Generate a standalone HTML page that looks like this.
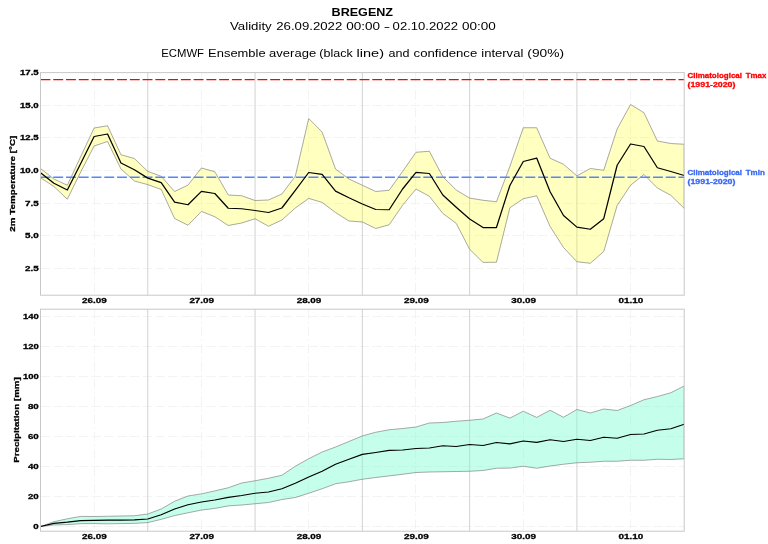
<!DOCTYPE html>
<html><head><meta charset="utf-8"><title>BREGENZ</title>
<style>
html,body{margin:0;padding:0;background:#fff;}
body{width:768px;height:544px;overflow:hidden;font-family:"Liberation Sans",sans-serif;}
svg{display:block;font-family:"Liberation Sans",sans-serif;will-change:transform;}
.b{font-weight:bold;}
</style></head><body>
<svg width="768" height="544" viewBox="0 0 768 544">
<rect width="768" height="544" fill="#fff"/>

<g>
<line x1="94.50" y1="72.60" x2="94.50" y2="295.20" stroke="#eeeeee" stroke-width="0.7" stroke-dasharray="9.5 3.26 1.5 3.26"/>
<line x1="201.50" y1="72.60" x2="201.50" y2="295.20" stroke="#eeeeee" stroke-width="0.7" stroke-dasharray="9.5 3.26 1.5 3.26"/>
<line x1="308.50" y1="72.60" x2="308.50" y2="295.20" stroke="#eeeeee" stroke-width="0.7" stroke-dasharray="9.5 3.26 1.5 3.26"/>
<line x1="415.50" y1="72.60" x2="415.50" y2="295.20" stroke="#eeeeee" stroke-width="0.7" stroke-dasharray="9.5 3.26 1.5 3.26"/>
<line x1="523.50" y1="72.60" x2="523.50" y2="295.20" stroke="#eeeeee" stroke-width="0.7" stroke-dasharray="9.5 3.26 1.5 3.26"/>
<line x1="630.50" y1="72.60" x2="630.50" y2="295.20" stroke="#eeeeee" stroke-width="0.7" stroke-dasharray="9.5 3.26 1.5 3.26"/>
<line x1="40.50" y1="268.50" x2="684.20" y2="268.50" stroke="#eeeeee" stroke-width="0.7" stroke-dasharray="9.5 3.26"/>
<line x1="40.50" y1="235.50" x2="684.20" y2="235.50" stroke="#eeeeee" stroke-width="0.7" stroke-dasharray="9.5 3.26"/>
<line x1="40.50" y1="203.50" x2="684.20" y2="203.50" stroke="#eeeeee" stroke-width="0.7" stroke-dasharray="9.5 3.26"/>
<line x1="40.50" y1="170.50" x2="684.20" y2="170.50" stroke="#eeeeee" stroke-width="0.7" stroke-dasharray="9.5 3.26"/>
<line x1="40.50" y1="137.50" x2="684.20" y2="137.50" stroke="#eeeeee" stroke-width="0.7" stroke-dasharray="9.5 3.26"/>
<line x1="40.50" y1="105.50" x2="684.20" y2="105.50" stroke="#eeeeee" stroke-width="0.7" stroke-dasharray="9.5 3.26"/>
<line x1="147.78" y1="72.60" x2="147.78" y2="295.20" stroke="#d2d2d2" stroke-width="1.0"/>
<line x1="255.07" y1="72.60" x2="255.07" y2="295.20" stroke="#d2d2d2" stroke-width="1.0"/>
<line x1="362.35" y1="72.60" x2="362.35" y2="295.20" stroke="#d2d2d2" stroke-width="1.0"/>
<line x1="469.63" y1="72.60" x2="469.63" y2="295.20" stroke="#d2d2d2" stroke-width="1.0"/>
<line x1="576.92" y1="72.60" x2="576.92" y2="295.20" stroke="#d2d2d2" stroke-width="1.0"/>
</g><g>
<line x1="94.50" y1="309.20" x2="94.50" y2="531.20" stroke="#eeeeee" stroke-width="0.7" stroke-dasharray="9.5 3.26 1.5 3.26"/>
<line x1="201.50" y1="309.20" x2="201.50" y2="531.20" stroke="#eeeeee" stroke-width="0.7" stroke-dasharray="9.5 3.26 1.5 3.26"/>
<line x1="308.50" y1="309.20" x2="308.50" y2="531.20" stroke="#eeeeee" stroke-width="0.7" stroke-dasharray="9.5 3.26 1.5 3.26"/>
<line x1="415.50" y1="309.20" x2="415.50" y2="531.20" stroke="#eeeeee" stroke-width="0.7" stroke-dasharray="9.5 3.26 1.5 3.26"/>
<line x1="523.50" y1="309.20" x2="523.50" y2="531.20" stroke="#eeeeee" stroke-width="0.7" stroke-dasharray="9.5 3.26 1.5 3.26"/>
<line x1="630.50" y1="309.20" x2="630.50" y2="531.20" stroke="#eeeeee" stroke-width="0.7" stroke-dasharray="9.5 3.26 1.5 3.26"/>
<line x1="40.50" y1="526.50" x2="684.20" y2="526.50" stroke="#eeeeee" stroke-width="0.7" stroke-dasharray="9.5 3.26"/>
<line x1="40.50" y1="496.50" x2="684.20" y2="496.50" stroke="#eeeeee" stroke-width="0.7" stroke-dasharray="9.5 3.26"/>
<line x1="40.50" y1="466.50" x2="684.20" y2="466.50" stroke="#eeeeee" stroke-width="0.7" stroke-dasharray="9.5 3.26"/>
<line x1="40.50" y1="436.50" x2="684.20" y2="436.50" stroke="#eeeeee" stroke-width="0.7" stroke-dasharray="9.5 3.26"/>
<line x1="40.50" y1="406.50" x2="684.20" y2="406.50" stroke="#eeeeee" stroke-width="0.7" stroke-dasharray="9.5 3.26"/>
<line x1="40.50" y1="376.50" x2="684.20" y2="376.50" stroke="#eeeeee" stroke-width="0.7" stroke-dasharray="9.5 3.26"/>
<line x1="40.50" y1="346.50" x2="684.20" y2="346.50" stroke="#eeeeee" stroke-width="0.7" stroke-dasharray="9.5 3.26"/>
<line x1="40.50" y1="316.50" x2="684.20" y2="316.50" stroke="#eeeeee" stroke-width="0.7" stroke-dasharray="9.5 3.26"/>
<line x1="147.78" y1="309.20" x2="147.78" y2="531.20" stroke="#d2d2d2" stroke-width="1.0"/>
<line x1="255.07" y1="309.20" x2="255.07" y2="531.20" stroke="#d2d2d2" stroke-width="1.0"/>
<line x1="362.35" y1="309.20" x2="362.35" y2="531.20" stroke="#d2d2d2" stroke-width="1.0"/>
<line x1="469.63" y1="309.20" x2="469.63" y2="531.20" stroke="#d2d2d2" stroke-width="1.0"/>
<line x1="576.92" y1="309.20" x2="576.92" y2="531.20" stroke="#d2d2d2" stroke-width="1.0"/>
</g>
<clipPath id="ct"><rect x="40.50" y="72.60" width="643.70" height="222.60"/></clipPath>
<clipPath id="cb"><rect x="40.50" y="309.20" width="643.70" height="222.00"/></clipPath>
<g clip-path="url(#ct)">
<polygon points="40.50,168.50 53.91,179.00 67.32,185.25 80.73,156.50 94.14,128.00 107.55,125.75 120.96,154.75 134.37,158.50 147.78,171.40 161.19,176.25 174.60,191.50 188.01,185.10 201.43,168.00 214.84,171.75 228.25,195.00 241.66,195.75 255.07,200.50 268.48,200.00 281.89,194.00 295.30,176.25 308.71,118.50 322.12,132.00 335.53,169.00 348.94,179.00 362.35,185.25 375.76,191.50 389.17,190.25 402.58,171.50 415.99,152.25 429.40,151.25 442.81,176.75 456.22,190.00 469.63,198.10 483.04,200.25 496.45,201.75 509.86,166.50 523.28,127.75 536.69,127.75 550.10,158.25 563.51,164.25 576.92,175.90 590.33,168.50 603.74,170.25 617.15,129.00 630.56,104.50 643.97,112.75 657.38,141.00 670.79,143.50 684.20,144.25 684.20,208.40 670.79,195.25 657.38,188.00 643.97,174.50 630.56,185.25 617.15,205.50 603.74,251.50 590.33,263.25 576.92,261.75 563.51,247.50 550.10,226.50 536.69,195.75 523.28,198.75 509.86,207.75 496.45,262.25 483.04,262.40 469.63,249.25 456.22,223.40 442.81,213.40 429.40,196.30 415.99,189.00 402.58,205.25 389.17,224.75 375.76,228.50 362.35,222.00 348.94,221.00 335.53,212.50 322.12,202.40 308.71,198.40 295.30,208.00 281.89,220.00 268.48,226.25 255.07,218.75 241.66,223.00 228.25,225.50 214.84,216.75 201.43,211.40 188.01,225.25 174.60,218.50 161.19,189.50 147.78,184.60 134.37,181.00 120.96,169.00 107.55,141.50 94.14,146.00 80.73,172.00 67.32,199.20 53.91,186.50 40.50,177.75" fill="#ffff00" fill-opacity="0.25" stroke="#707070" stroke-width="0.6" stroke-linejoin="round"/>
<line x1="40.50" y1="79.50" x2="684.20" y2="79.50" stroke="#ff0000" stroke-width="1.25" stroke-dasharray="9.9 2.86"/>
<line x1="40.50" y1="177.30" x2="684.20" y2="177.30" stroke="#5285ff" stroke-width="1.5" stroke-dasharray="9.9 2.86"/>
<polyline points="40.50,172.75 53.91,183.25 67.32,190.00 80.73,163.50 94.14,136.50 107.55,134.00 120.96,163.00 134.37,169.75 147.78,178.10 161.19,182.60 174.60,202.10 188.01,204.75 201.43,191.40 214.84,193.50 228.25,208.25 241.66,208.75 255.07,210.50 268.48,212.50 281.89,208.00 295.30,190.40 308.71,172.50 322.12,174.40 335.53,191.10 348.94,197.75 362.35,204.00 375.76,209.50 389.17,209.75 402.58,189.00 415.99,172.40 429.40,173.50 442.81,195.00 456.22,207.25 469.63,219.00 483.04,227.50 496.45,227.50 509.86,185.50 523.28,161.50 536.69,158.10 550.10,191.70 563.51,215.50 576.92,227.10 590.33,229.25 603.74,218.70 617.15,165.25 630.56,144.00 643.97,146.50 657.38,167.75 670.79,171.50 684.20,175.50" fill="none" stroke="#000" stroke-width="1.25" stroke-linejoin="round"/>
</g>
<g clip-path="url(#cb)">
<polygon points="40.50,526.50 53.91,521.70 67.32,518.80 80.73,516.40 94.14,516.50 107.55,516.25 120.96,516.00 134.37,515.75 147.78,514.00 161.19,509.00 174.60,501.25 188.01,496.00 201.43,493.90 214.84,490.90 228.25,487.75 241.66,483.00 255.07,480.75 268.48,478.25 281.89,475.25 295.30,466.25 308.71,458.75 322.12,452.00 335.53,447.00 348.94,441.50 362.35,435.90 375.76,432.25 389.17,429.75 402.58,428.50 415.99,427.00 429.40,423.00 442.81,422.50 456.22,421.25 469.63,420.25 483.04,419.00 496.45,413.00 509.86,418.10 523.28,411.25 536.69,417.40 550.10,410.25 563.51,417.25 576.92,409.50 590.33,413.00 603.74,409.00 617.15,410.50 630.56,405.50 643.97,399.75 657.38,396.50 670.79,392.75 684.20,386.00 684.20,458.75 670.79,459.50 657.38,459.25 643.97,460.25 630.56,460.25 617.15,461.25 603.74,461.25 590.33,462.25 576.92,462.75 563.51,464.25 550.10,466.00 536.69,468.25 523.28,466.25 509.86,468.10 496.45,468.25 483.04,470.50 469.63,471.25 456.22,471.50 442.81,471.75 429.40,472.00 415.99,472.50 402.58,474.25 389.17,475.90 375.76,477.50 362.35,479.25 348.94,481.75 335.53,483.75 322.12,488.75 308.71,493.25 295.30,497.50 281.89,499.50 268.48,502.50 255.07,503.75 241.66,505.00 228.25,505.90 214.84,508.40 201.43,510.10 188.01,512.75 174.60,515.60 161.19,519.35 147.78,522.60 134.37,523.35 120.96,523.60 107.55,523.85 94.14,523.55 80.73,523.70 67.32,524.60 53.91,524.90 40.50,526.50" fill="#7fffd4" fill-opacity="0.45" stroke="#707070" stroke-width="0.6" stroke-linejoin="round"/>
<polyline points="40.50,526.50 53.91,523.30 67.32,522.20 80.73,520.70 94.14,520.35 107.55,520.20 120.96,520.20 134.37,519.95 147.78,519.00 161.19,514.75 174.60,509.00 188.01,504.75 201.43,502.00 214.84,500.00 228.25,497.40 241.66,495.50 255.07,493.25 268.48,492.00 281.89,488.75 295.30,483.25 308.71,477.00 322.12,471.25 335.53,464.25 348.94,459.25 362.35,454.40 375.76,452.50 389.17,450.40 402.58,450.00 415.99,448.50 429.40,448.00 442.81,445.75 456.22,446.50 469.63,444.50 483.04,445.50 496.45,442.50 509.86,443.90 523.28,441.00 536.69,442.40 550.10,439.75 563.51,441.50 576.92,439.25 590.33,440.50 603.74,437.25 617.15,438.25 630.56,434.50 643.97,434.00 657.38,430.25 670.79,428.75 684.20,424.25" fill="none" stroke="#000" stroke-width="1.25" stroke-linejoin="round"/>
</g>
<rect x="40.50" y="72.60" width="643.70" height="222.60" fill="none" stroke="#c8c8c8" stroke-width="1"/>
<rect x="40.50" y="309.20" width="643.70" height="222.00" fill="none" stroke="#c8c8c8" stroke-width="1"/>
<text x="331.55" y="16.40" font-size="10.60" text-anchor="start" class="b" fill="#000" textLength="61.51" lengthAdjust="spacingAndGlyphs" id="t1">BREGENZ</text>
<text x="229.95" y="29.90" font-size="10.60" text-anchor="start" fill="#000" textLength="41.83" lengthAdjust="spacingAndGlyphs" id="v1">Validity</text>
<text x="276.26" y="29.90" font-size="10.60" text-anchor="start" fill="#000" textLength="66.01" lengthAdjust="spacingAndGlyphs" id="v2">26.09.2022</text>
<text x="346.25" y="29.90" font-size="10.60" text-anchor="start" fill="#000" textLength="33.74" lengthAdjust="spacingAndGlyphs" id="v3">00:00</text>
<text x="383.87" y="29.90" font-size="10.60" text-anchor="start" fill="#000" textLength="6.34" lengthAdjust="spacingAndGlyphs" id="v4">-</text>
<text x="392.61" y="29.90" font-size="10.60" text-anchor="start" fill="#000" textLength="65.43" lengthAdjust="spacingAndGlyphs" id="v5">02.10.2022</text>
<text x="461.96" y="29.90" font-size="10.60" text-anchor="start" fill="#000" textLength="33.76" lengthAdjust="spacingAndGlyphs" id="v6">00:00</text>
<text x="161.26" y="56.60" font-size="11.40" text-anchor="start" fill="#000" textLength="42.75" lengthAdjust="spacingAndGlyphs" id="e1">ECMWF</text>
<text x="208.13" y="56.60" font-size="11.40" text-anchor="start" fill="#000" textLength="57.44" lengthAdjust="spacingAndGlyphs" id="e2">Ensemble</text>
<text x="269.13" y="56.60" font-size="11.40" text-anchor="start" fill="#000" textLength="47.01" lengthAdjust="spacingAndGlyphs" id="e3">average</text>
<text x="319.39" y="56.60" font-size="11.40" text-anchor="start" fill="#000" textLength="33.43" lengthAdjust="spacingAndGlyphs" id="e4">(black</text>
<text x="356.56" y="56.60" font-size="11.40" text-anchor="start" fill="#000" textLength="27.44" lengthAdjust="spacingAndGlyphs" id="e5">line)</text>
<text x="388.45" y="56.60" font-size="11.40" text-anchor="start" fill="#000" textLength="20.98" lengthAdjust="spacingAndGlyphs" id="e6">and</text>
<text x="413.60" y="56.60" font-size="11.40" text-anchor="start" fill="#000" textLength="63.69" lengthAdjust="spacingAndGlyphs" id="e7">confidence</text>
<text x="481.27" y="56.60" font-size="11.40" text-anchor="start" fill="#000" textLength="42.04" lengthAdjust="spacingAndGlyphs" id="e8">interval</text>
<text x="527.35" y="56.60" font-size="11.40" text-anchor="start" fill="#000" textLength="36.66" lengthAdjust="spacingAndGlyphs" id="e9">(90%)</text>
<text x="38.70" y="270.85" font-size="8.00" text-anchor="end" class="b" fill="#000" stroke="#000" stroke-width="0.3" textLength="13.73" lengthAdjust="spacingAndGlyphs">2.5</text>
<text x="38.70" y="238.25" font-size="8.00" text-anchor="end" class="b" fill="#000" stroke="#000" stroke-width="0.3" textLength="13.73" lengthAdjust="spacingAndGlyphs">5.0</text>
<text x="38.70" y="205.65" font-size="8.00" text-anchor="end" class="b" fill="#000" stroke="#000" stroke-width="0.3" textLength="13.73" lengthAdjust="spacingAndGlyphs">7.5</text>
<text x="38.70" y="173.05" font-size="8.00" text-anchor="end" class="b" fill="#000" stroke="#000" stroke-width="0.3" textLength="18.73" lengthAdjust="spacingAndGlyphs">10.0</text>
<text x="38.70" y="140.45" font-size="8.00" text-anchor="end" class="b" fill="#000" stroke="#000" stroke-width="0.3" textLength="18.73" lengthAdjust="spacingAndGlyphs">12.5</text>
<text x="38.70" y="107.85" font-size="8.00" text-anchor="end" class="b" fill="#000" stroke="#000" stroke-width="0.3" textLength="18.73" lengthAdjust="spacingAndGlyphs">15.0</text>
<text x="38.70" y="75.25" font-size="8.00" text-anchor="end" class="b" fill="#000" stroke="#000" stroke-width="0.3" textLength="18.73" lengthAdjust="spacingAndGlyphs">17.5</text>
<text x="38.70" y="529.05" font-size="8.00" text-anchor="end" class="b" fill="#000" stroke="#000" stroke-width="0.3" textLength="5.39" lengthAdjust="spacingAndGlyphs">0</text>
<text x="38.70" y="499.05" font-size="8.00" text-anchor="end" class="b" fill="#000" stroke="#000" stroke-width="0.3" textLength="10.79" lengthAdjust="spacingAndGlyphs">20</text>
<text x="38.70" y="469.05" font-size="8.00" text-anchor="end" class="b" fill="#000" stroke="#000" stroke-width="0.3" textLength="10.79" lengthAdjust="spacingAndGlyphs">40</text>
<text x="38.70" y="439.05" font-size="8.00" text-anchor="end" class="b" fill="#000" stroke="#000" stroke-width="0.3" textLength="10.79" lengthAdjust="spacingAndGlyphs">60</text>
<text x="38.70" y="409.05" font-size="8.00" text-anchor="end" class="b" fill="#000" stroke="#000" stroke-width="0.3" textLength="10.79" lengthAdjust="spacingAndGlyphs">80</text>
<text x="38.70" y="379.05" font-size="8.00" text-anchor="end" class="b" fill="#000" stroke="#000" stroke-width="0.3" textLength="15.78" lengthAdjust="spacingAndGlyphs">100</text>
<text x="38.70" y="349.05" font-size="8.00" text-anchor="end" class="b" fill="#000" stroke="#000" stroke-width="0.3" textLength="15.78" lengthAdjust="spacingAndGlyphs">120</text>
<text x="38.70" y="319.05" font-size="8.00" text-anchor="end" class="b" fill="#000" stroke="#000" stroke-width="0.3" textLength="15.78" lengthAdjust="spacingAndGlyphs">140</text>
<text x="94.44" y="302.60" font-size="8.10" text-anchor="middle" class="b" fill="#000" stroke="#000" stroke-width="0.3" textLength="24.71" lengthAdjust="spacingAndGlyphs">26.09</text>
<text x="94.44" y="539.40" font-size="8.10" text-anchor="middle" class="b" fill="#000" stroke="#000" stroke-width="0.3" textLength="24.71" lengthAdjust="spacingAndGlyphs">26.09</text>
<text x="201.73" y="302.60" font-size="8.10" text-anchor="middle" class="b" fill="#000" stroke="#000" stroke-width="0.3" textLength="24.71" lengthAdjust="spacingAndGlyphs">27.09</text>
<text x="201.73" y="539.40" font-size="8.10" text-anchor="middle" class="b" fill="#000" stroke="#000" stroke-width="0.3" textLength="24.71" lengthAdjust="spacingAndGlyphs">27.09</text>
<text x="309.01" y="302.60" font-size="8.10" text-anchor="middle" class="b" fill="#000" stroke="#000" stroke-width="0.3" textLength="24.71" lengthAdjust="spacingAndGlyphs">28.09</text>
<text x="309.01" y="539.40" font-size="8.10" text-anchor="middle" class="b" fill="#000" stroke="#000" stroke-width="0.3" textLength="24.71" lengthAdjust="spacingAndGlyphs">28.09</text>
<text x="416.29" y="302.60" font-size="8.10" text-anchor="middle" class="b" fill="#000" stroke="#000" stroke-width="0.3" textLength="24.71" lengthAdjust="spacingAndGlyphs">29.09</text>
<text x="416.29" y="539.40" font-size="8.10" text-anchor="middle" class="b" fill="#000" stroke="#000" stroke-width="0.3" textLength="24.71" lengthAdjust="spacingAndGlyphs">29.09</text>
<text x="523.58" y="302.60" font-size="8.10" text-anchor="middle" class="b" fill="#000" stroke="#000" stroke-width="0.3" textLength="24.71" lengthAdjust="spacingAndGlyphs">30.09</text>
<text x="523.58" y="539.40" font-size="8.10" text-anchor="middle" class="b" fill="#000" stroke="#000" stroke-width="0.3" textLength="24.71" lengthAdjust="spacingAndGlyphs">30.09</text>
<text x="630.86" y="302.60" font-size="8.10" text-anchor="middle" class="b" fill="#000" stroke="#000" stroke-width="0.3" textLength="24.71" lengthAdjust="spacingAndGlyphs">01.10</text>
<text x="630.86" y="539.40" font-size="8.10" text-anchor="middle" class="b" fill="#000" stroke="#000" stroke-width="0.3" textLength="24.71" lengthAdjust="spacingAndGlyphs">01.10</text>
<g transform="translate(15.3,183.7) rotate(-90)">
<text x="0.00" y="0.00" font-size="8.00" text-anchor="middle" class="b" fill="#000" stroke="#000" stroke-width="0.3" textLength="96.00" lengthAdjust="spacingAndGlyphs">2m Temperature [°C]</text>
</g>
<g transform="translate(18.5,420.0) rotate(-90)">
<text x="0.00" y="0.00" font-size="8.00" text-anchor="middle" class="b" fill="#000" stroke="#000" stroke-width="0.3" textLength="85.50" lengthAdjust="spacingAndGlyphs">Precipitation [mm]</text>
</g>
<text x="687.55" y="77.90" font-size="7.50" class="b" fill="#ff0000" stroke="#ff0000" stroke-width="0.3" textLength="54.40" lengthAdjust="spacingAndGlyphs">Climatological</text>
<text x="745.75" y="77.90" font-size="7.50" class="b" fill="#ff0000" stroke="#ff0000" stroke-width="0.3" textLength="20.50" lengthAdjust="spacingAndGlyphs">Tmax</text>
<text x="687.55" y="86.70" font-size="7.50" class="b" fill="#ff0000" stroke="#ff0000" stroke-width="0.3" textLength="47.90" lengthAdjust="spacingAndGlyphs">(1991-2020)</text>
<text x="687.55" y="175.00" font-size="7.50" class="b" fill="#3868f5" stroke="#3868f5" stroke-width="0.3" textLength="54.40" lengthAdjust="spacingAndGlyphs">Climatological</text>
<text x="745.75" y="175.00" font-size="7.50" class="b" fill="#3868f5" stroke="#3868f5" stroke-width="0.3" textLength="19.00" lengthAdjust="spacingAndGlyphs">Tmin</text>
<text x="687.55" y="183.70" font-size="7.50" class="b" fill="#3868f5" stroke="#3868f5" stroke-width="0.3" textLength="47.90" lengthAdjust="spacingAndGlyphs">(1991-2020)</text>
</svg></body></html>
